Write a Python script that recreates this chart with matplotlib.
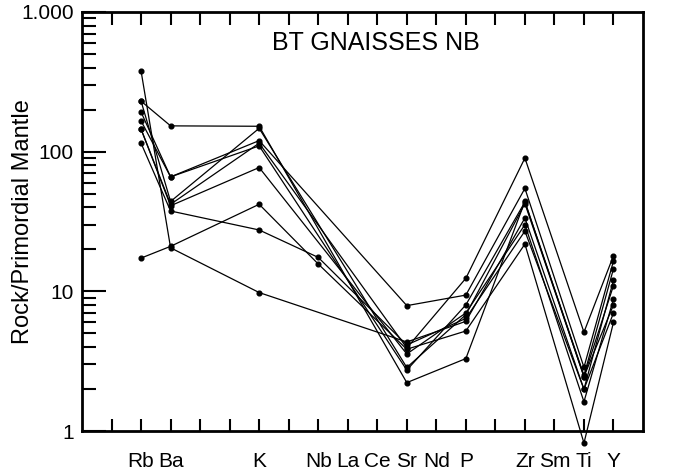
import numpy as np
import matplotlib.pyplot as plt
from matplotlib.ticker import FixedLocator, NullFormatter

plt.rcParams['font.family'] = ['Liberation Sans', 'DejaVu Sans']

# element order along the x axis (slot index) and their labels
elements = ['Rb', 'Ba', 'K', 'Nb', 'La', 'Ce', 'Sr', 'Nd', 'P', 'Zr', 'Sm', 'Ti', 'Y']
slots = [1, 2, 5, 7, 8, 9, 10, 11, 12, 14, 15, 16, 17]

# normalised values, one entry per sample (nan = not analysed)
nan = np.nan
rb = [230, 192, 166, 230, 145, 145, 115, 17.3, 378]
ba = [153, 66, 66, 44, 42, 41, 37.6, 21, 20.5]
k = [152, 120, 110, 147, 115, 77, 27.5, 42, 9.8]
nb = [nan, nan, nan, nan, nan, nan, 17.5, 15.7, nan]
la = [nan] * 9
ce = [nan] * 9
sr = [2.22, 7.9, 2.73, 2.85, 3.93, 3.56, 4.13, 3.85, 4.34]
nd = [nan] * 9
p = [3.3, 9.4, 8.0, 6.8, 12.4, 7.0, 6.4, 5.2, 6.1]
zr = [44, 54.6, 43.6, 42.5, 90, 30, 27, 21.8, 33.5]
sm = [nan] * 9
ti = [2.45, 2.86, 2.5, 2.45, 5.1, 1.62, 1.99, 0.82, 1.99]
y = [8, 16.5, 14.5, 11, 18, 8.8, 7, 6, 12]

table = np.array([rb, ba, k, nb, la, ce, sr, nd, p, zr, sm, ti, y], dtype=float)

fig = plt.figure(figsize=(6.8, 4.74), dpi=100)
ax = fig.add_axes([0.1206, 0.0907, 0.825, 0.884])

xs = np.array(slots)
for j in range(table.shape[1]):
    vals = table[:, j]
    ok = ~np.isnan(vals)
    ax.plot(xs[ok], vals[ok], color='black', lw=0.9, marker='o', ms=3.4,
            clip_on=False, zorder=3)

ax.set_yscale('log')
ax.set_ylim(1, 1000)
ax.set_xlim(-1, 18)

ax.yaxis.set_major_locator(FixedLocator([1, 10, 100, 1000]))
ax.set_yticklabels(['1', '10', '100', '1.000'])
ax.yaxis.set_minor_locator(FixedLocator([m * d for d in [1, 10, 100] for m in range(2, 10)]))
ax.yaxis.set_minor_formatter(NullFormatter())

ax.xaxis.set_major_locator(FixedLocator(range(0, 18)))
ax.set_xticklabels([elements[slots.index(i)] if i in slots else '' for i in range(18)])

ax.tick_params(axis='x', which='both', direction='in', top=True, length=9, width=1.5,
               labelsize=15, pad=15)
ax.tick_params(axis='y', which='major', direction='in', length=17, width=1.5,
               labelsize=15, pad=6)
ax.tick_params(axis='y', which='minor', direction='in', length=10, width=1.5)
for s in ax.spines.values():
    s.set_linewidth(2)

# y label placed by hand so it stays inside the figure
fig.text(23 / 680, 1 - 221.5 / 474, 'Rock/Primordial Mantle', rotation=90,
         ha='center', va='center', fontsize=17)
ax.text(0.523, 0.927, 'BT GNAISSES NB', transform=ax.transAxes, ha='center',
        va='center', fontsize=18)

fig.savefig('out.png', dpi=100)
